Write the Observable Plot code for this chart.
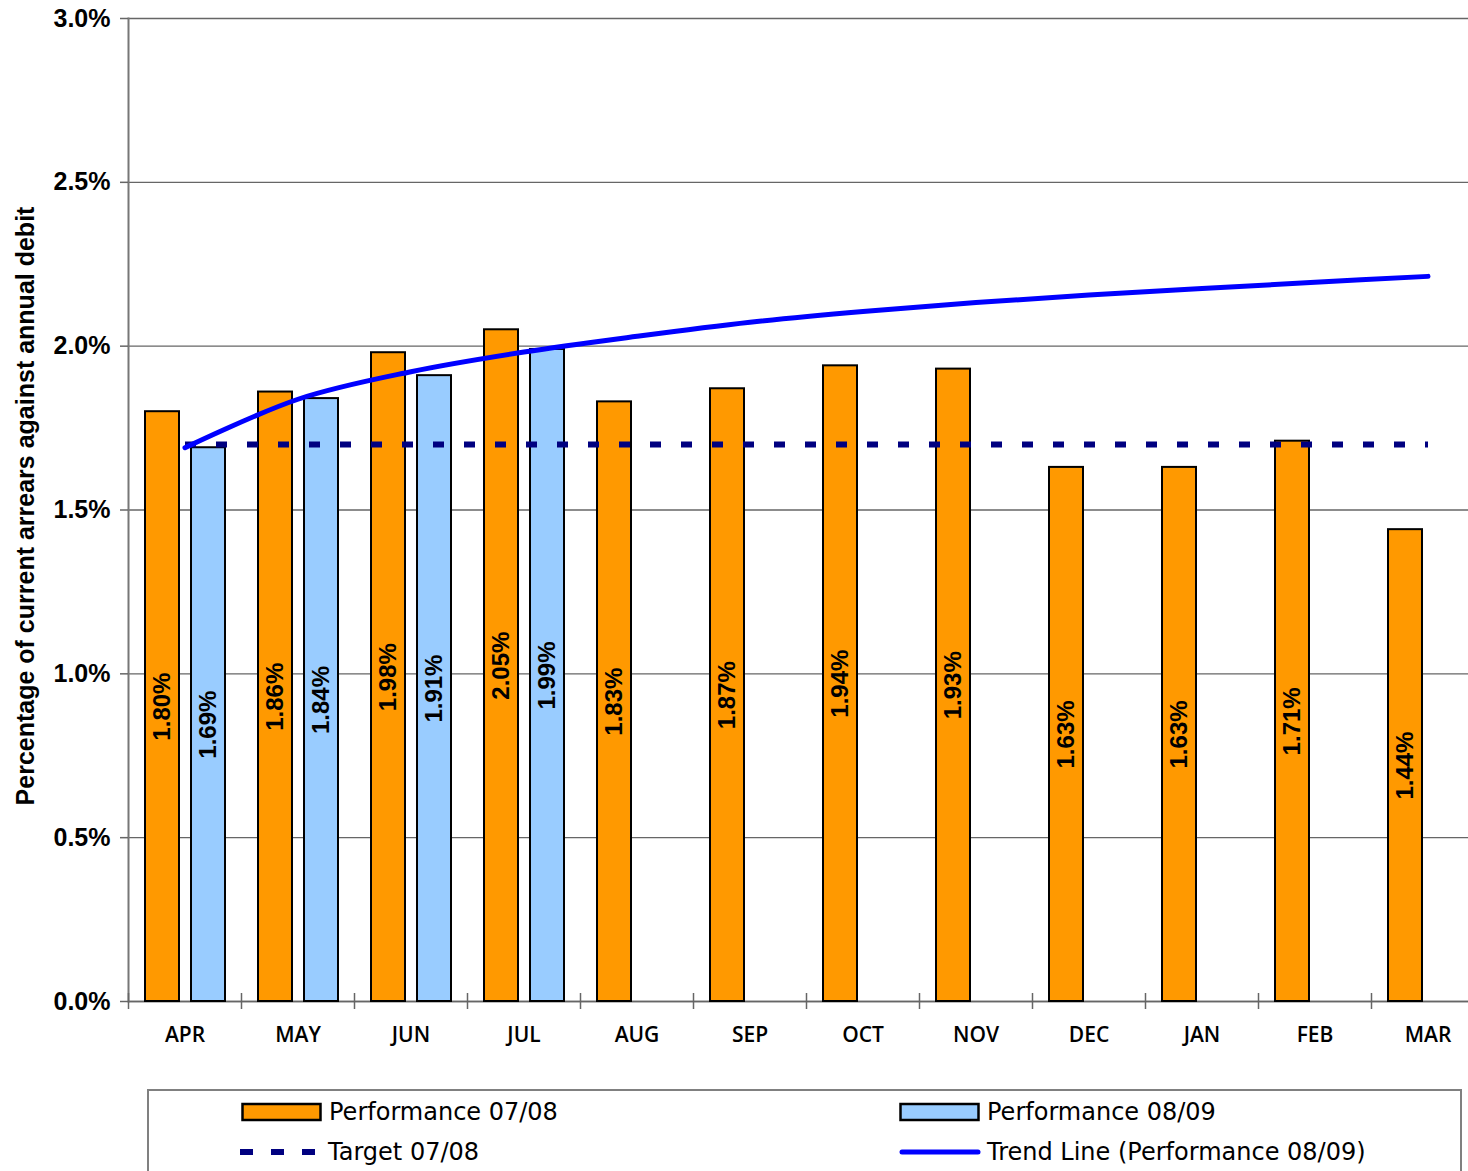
<!DOCTYPE html>
<html>
<head>
<meta charset="utf-8">
<script src="https://cdn.jsdelivr.net/npm/d3@7"></script>
<script src="https://cdn.jsdelivr.net/npm/@observablehq/plot@0.6"></script>
<style>
  html, body { margin: 0; padding: 0; background: #fff; }
  #wrap { position: relative; width: 1468px; height: 1171px; overflow: hidden; }
  #chart { position: absolute; left: 0; top: 0; width: 1500px; }
  #chart svg { max-width: none !important; }
  #ytitle { position: absolute; left: 25px; top: 506px; transform: translate(-50%, -50%) rotate(-90deg);
    font: bold 25px "Liberation Sans", Arial, sans-serif; white-space: nowrap; color: #000; }
  #legend { position: absolute; left: 147px; top: 1089px; width: 1315px; height: 120px;
    border: 2px solid #808080; box-sizing: border-box; }
  .li { position: absolute; display: flex; align-items: center; font: 24px "DejaVu Sans", Verdana, sans-serif; color: #000; white-space: nowrap; }
  .li svg { margin-right: 6px; }
</style>
</head>
<body>
<div id="wrap">
  <div id="chart"></div>
  <div id="ytitle">Percentage of current arrears against annual debit</div>
  <div id="legend"></div>
</div>
<script>
const months = ["APR","MAY","JUN","JUL","AUG","SEP","OCT","NOV","DEC","JAN","FEB","MAR"];
const perf0708 = [1.80,1.86,1.98,2.05,1.83,1.87,1.94,1.93,1.63,1.63,1.71,1.44];
const perf0809 = [1.69,1.84,1.91,1.99];
const target0708 = [1.70,1.70,1.70,1.70,1.70,1.70,1.70,1.70,1.70,1.70,1.70,1.70];
const trend0809 = [1.69,1.838,1.922,1.982,2.030,2.073,2.106,2.133,2.156,2.176,2.195,2.213];
const yTicks = [0,0.5,1.0,1.5,2.0,2.5,3.0];
const seriesNames = ["Performance 07/08","Performance 08/09","Target 07/08","Trend Line (Performance 08/09)"];

const colOrange = "#FF9900", colBlue = "#99CCFF", colNavy = "#000080", colTrend = "#0000FF";

const d0708 = perf0708.map((v,i)=>({month: months[i], value: v}));
const d0809 = perf0809.map((v,i)=>({month: months[i], value: v}));
const dTarget = target0708.map((v,i)=>({month: months[i], value: v}));
const dTrend = trend0809.map((v,i)=>({month: months[i], value: v}));

const fmt = v => v.toFixed(2) + "%";

const plot = Plot.plot({
  width: 1500,
  height: 1060,
  marginLeft: 128,
  marginRight: 16,
  marginTop: 18,
  marginBottom: 59,
  style: {background: "transparent", overflow: "visible", maxWidth: "none"},
  x: {domain: months, padding: 0},
  y: {domain: [0, 3]},
  marks: [
    Plot.gridY(yTicks, {stroke: "#666", strokeOpacity: 1, strokeWidth: 1.3}),
    Plot.ruleY([0], {stroke: "#666", strokeWidth: 1.5}),
    Plot.frame({anchor: "left", stroke: "#777", strokeWidth: 2}),
    Plot.axisY(yTicks, {tickFormat: d => d.toFixed(1) + "%", tickSize: 8, tickPadding: 10,
      fontSize: 25, fontWeight: "bold", fontFamily: "Liberation Sans, Arial, sans-serif",
      label: null, stroke: "#666", strokeWidth: 1.5}),
    Plot.axisX(months, {tickSize: 0, tickPadding: 26, fontSize: 21, fontWeight: 600,
      fontFamily: "Open Sans, DejaVu Sans, sans-serif", label: null}),
    Plot.ruleX(months, {x: d => d, dx: -56.5, insetTop: 975, insetBottom: -8, stroke: "#666", strokeWidth: 1.5}),
    Plot.barY(d0708, {x: "month", y: "value", fill: colOrange, stroke: "#000", strokeWidth: 2,
      insetLeft: 17, insetRight: 62}),
    Plot.barY(d0809, {x: "month", y: "value", fill: colBlue, stroke: "#000", strokeWidth: 2,
      insetLeft: 63, insetRight: 16}),
    Plot.text(d0708, {x: "month", y: d => d.value / 2, text: d => fmt(d.value), rotate: -90, dx: -22.5,
      fontSize: 24, fontWeight: "bold", fontFamily: "Liberation Sans, Arial, sans-serif", fill: "#000"}),
    Plot.text(d0809, {x: "month", y: d => d.value / 2, text: d => fmt(d.value), rotate: -90, dx: 23.5,
      fontSize: 24, fontWeight: "bold", fontFamily: "Liberation Sans, Arial, sans-serif", fill: "#000"}),
    Plot.line(dTarget, {x: "month", y: "value", stroke: colNavy, strokeWidth: 6, strokeDasharray: "11,20", strokeLinecap: "butt"}),
    Plot.line(dTrend, {x: "month", y: "value", stroke: colTrend, strokeWidth: 5, curve: "catmull-rom", strokeLinecap: "round"})
  ]
});
plot.style.maxWidth = "none";
document.getElementById("chart").appendChild(plot);

// Legend
const legend = document.getElementById("legend");
function item(left, top, swatch, label) {
  const div = document.createElement("div");
  div.className = "li";
  div.style.left = left + "px";
  div.style.top = top + "px";
  div.innerHTML = swatch + "<span>" + label + "</span>";
  legend.appendChild(div);
}
const box = c => `<svg width="82" height="20"><rect x="1.5" y="2" width="78" height="16" fill="${c}" stroke="#000" stroke-width="2.5"/></svg>`;
item(92, 7, box(colOrange), seriesNames[0]);
item(750, 7, box(colBlue), seriesNames[1]);
item(91, 47, `<svg width="82" height="20"><line x1="0" y1="10" x2="80" y2="10" stroke="${colNavy}" stroke-width="6" stroke-dasharray="13,18"/></svg>`, seriesNames[2]);
item(750, 47, `<svg width="82" height="20"><line x1="3" y1="10" x2="79" y2="10" stroke="${colTrend}" stroke-width="5" stroke-linecap="round"/></svg>`, seriesNames[3]);
</script>
</body>
</html>
